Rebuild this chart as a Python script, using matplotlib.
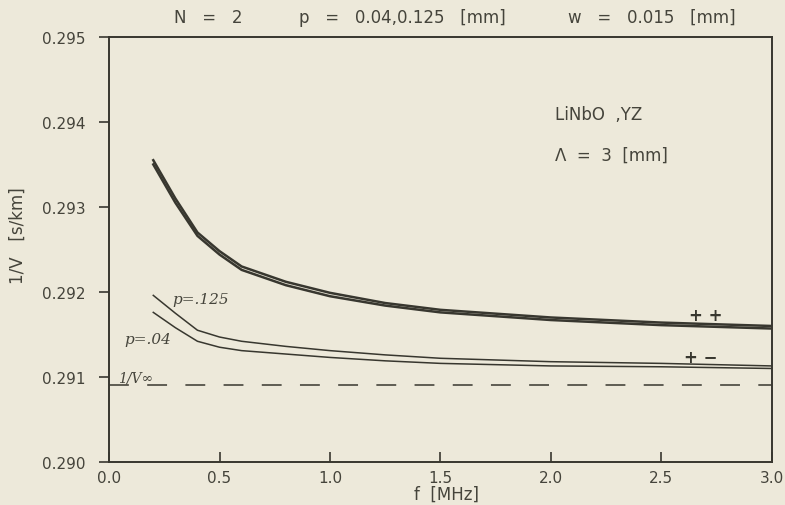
import matplotlib
matplotlib.use("Agg")
import matplotlib.pyplot as plt

# ── data ─────────────────────────────────────────────────────────────────────
f_mhz = [0.2, 0.3, 0.4, 0.5, 0.6, 0.8, 1.0, 1.25, 1.5, 2.0, 2.5, 3.0]

pp_p125 = [0.29355, 0.29310, 0.29270, 0.29248, 0.29230, 0.29212, 0.29199,
           0.29187, 0.29179, 0.29170, 0.29164, 0.29160]
pp_p04  = [0.29350, 0.29305, 0.29266, 0.29244, 0.29226, 0.29208, 0.29195,
           0.29184, 0.29176, 0.29167, 0.29161, 0.29157]

pm_p125 = [0.29196, 0.29175, 0.29155, 0.29147, 0.29142, 0.29136, 0.29131,
           0.29126, 0.29122, 0.29118, 0.29116, 0.29113]
pm_p04  = [0.29176, 0.29158, 0.29142, 0.29135, 0.29131, 0.29127, 0.29123,
           0.29119, 0.29116, 0.29113, 0.29112, 0.29110]

inv_v_inf = 0.29091

x_ticks = [0.0, 0.5, 1.0, 1.5, 2.0, 2.5, 3.0]
y_ticks = [0.290, 0.291, 0.292, 0.293, 0.294, 0.295]

title_parts = ["N   =   2", "p   =   0.04,0.125   [mm]", "w   =   0.015   [mm]"]

paper = "#ede9da"
ink = "#38372f"
txt = "#45443b"

fig = plt.figure(figsize=(7.85, 5.06), dpi=100, facecolor=paper)
ax = fig.add_axes([0.139, 0.085, 0.844, 0.84], facecolor=paper)

ax.plot(f_mhz, pp_p125, color=ink, lw=1.8)
ax.plot(f_mhz, pp_p04, color=ink, lw=1.8)
ax.plot(f_mhz, pm_p125, color=ink, lw=1.1)
ax.plot(f_mhz, pm_p04, color=ink, lw=1.1)
ax.axhline(inv_v_inf, color=ink, lw=1.1, ls=(0, (13, 12)))

ax.set_xlim(0, 3.0)
ax.set_ylim(0.290, 0.295)
ax.set_xticks(x_ticks)
ax.set_yticks(y_ticks)
ax.set_xticklabels([f"{v:.1f}" for v in x_ticks])
ax.set_yticklabels([f"{v:.3f}" for v in y_ticks])
ax.tick_params(axis="x", direction="in", length=7, width=1.2, colors=ink,
               labelsize=11, labelcolor=txt, pad=6)
ax.tick_params(axis="y", direction="out", length=7, width=1.2, colors=ink,
               labelsize=11, labelcolor=txt, pad=10)
for s in ax.spines.values():
    s.set_color(ink)
    s.set_linewidth(1.4)

# axis labels, placed where the plotter put them
fig.text(447 / 785, 1 - 495 / 506, "f  [MHz]", ha="center", va="center",
         fontsize=12, color=txt)
fig.text(18 / 785, 1 - 236 / 506, "1/V   [s/km]", ha="center", va="center",
         rotation=90, fontsize=12, color=txt)

# title in three pieces, spread like the original
for part, xc in zip(title_parts, [208, 402, 652]):
    fig.text(xc / 785, 1 - 18 / 506, part, ha="center", va="center",
             fontsize=12, color=txt)

ax.text(2.02, 0.29409, "LiNbO  ,YZ", va="center", fontsize=12, color=txt)
ax.text(2.02, 0.29362, "Λ  =  3  [mm]", va="center", fontsize=12, color=txt)

hand = dict(fontsize=11, style="italic", family="serif", color=txt,
            va="center")
ax.text(0.285, 0.29192, "p=.125", **hand)
ax.text(0.07, 0.29145, "p=.04", **hand)
ax.text(0.04, 0.29099, "1/V∞", **dict(hand, fontsize=10))

ax.text(2.7, 0.29173, "+ +", ha="center", va="center", fontsize=12,
        fontweight="bold", color=ink)
ax.text(2.68, 0.29124, "+ −", ha="center", va="center", fontsize=12,
        fontweight="bold", color=ink)

fig.savefig("out.png", dpi=100, facecolor=paper)
